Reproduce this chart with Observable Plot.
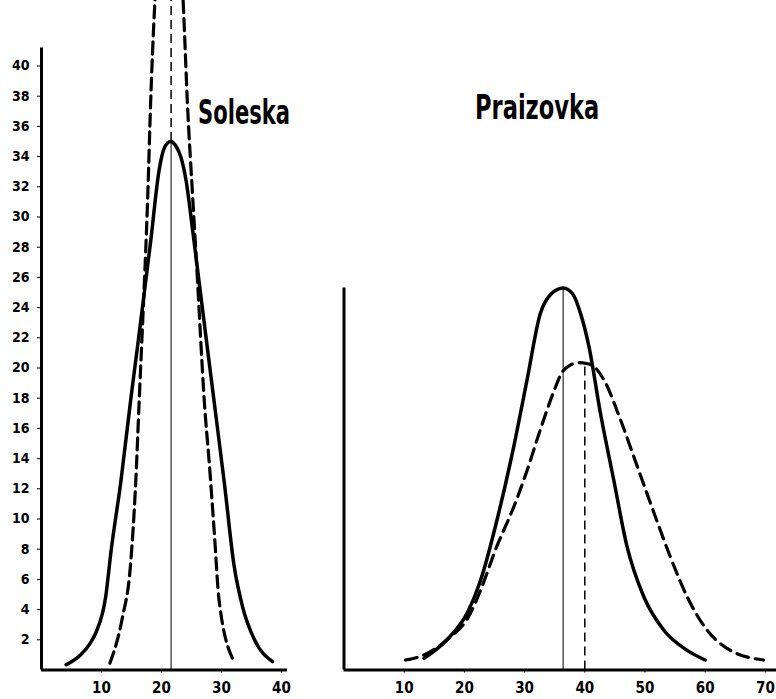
<!DOCTYPE html>
<html>
<head>
<meta charset="utf-8">
<script src="https://cdn.jsdelivr.net/npm/d3@7"></script>
<script src="https://cdn.jsdelivr.net/npm/@observablehq/plot@0.6"></script>
<style>
  body { margin: 0; background: #fff; }
  #wrap { position: relative; width: 776px; height: 699px; overflow: hidden; background: #fff;
          font-family: "DejaVu Sans Condensed", "Liberation Sans Narrow", sans-serif; }
  #left, #right { position: absolute; top: 0; }
  #left { left: 0; }
  #right { left: 300px; }
  .title { position: absolute; font-weight: bold; font-size: 33px; line-height: 1; color: #000;
           transform-origin: left top; white-space: nowrap; }
</style>
</head>
<body>
<div id="wrap">
  <div id="left"></div>
  <div id="right"></div>
  <div class="title" id="t1" style="left:198px;top:96px;transform:scaleX(0.71);">Soleska</div>
  <div class="title" id="t2" style="left:475px;top:91px;transform:scaleX(0.76);">Praizovka</div>
</div>
<script>
// ---- Data ----
const yTicks = [2,4,6,8,10,12,14,16,18,20,22,24,26,28,30,32,34,36,38,40];
const soleskaXTicks = [10,20,30,40];
const praizovkaXTicks = [10,20,30,40,50,60,70];

// Soleska — solid curve
const soleskaSolidX = [4.1, 6.5, 8.0, 9.1, 10.7, 11.6, 13.2, 14.9, 16.0, 17.1, 18.2, 19.6, 20.5, 21.5, 22.4, 23.2, 24.1, 25.2, 26.3, 27.4, 28.7, 30.5, 32.1, 33.5, 35.5, 38.5];
const soleskaSolidY = [0.35, 1.0, 1.7, 2.5, 4.85, 7.9, 12.4, 18.0, 21.4, 24.9, 28.4, 33.1, 34.6, 35.0, 34.7, 34.0, 32.4, 29.1, 25.6, 22.1, 18.0, 12.3, 6.9, 4.2, 2.0, 0.55];
// Soleska — dashed curve (runs off the top)
const soleskaDashX = [11.4, 13.5, 14.8, 15.7, 16.3, 16.8, 17.7, 18.2, 18.8, 19.4, 21.4, 23.2, 23.7, 24.3, 25.2, 26.0, 26.6, 27.1, 28.0, 28.8, 29.6, 32.1];
const soleskaDashY = [0.45, 3.5, 6.8, 12.4, 18.0, 22.5, 31.3, 37.7, 43.5, 47.5, 58, 47.5, 43.5, 37.7, 31.3, 25.8, 21.4, 18.0, 13.5, 9.1, 4.6, 0.55];
const soleskaSolidMean = 21.6, soleskaSolidPeak = 35.0;
const soleskaDashMean = 21.6;

// Praizovka — solid curve
const praizSolidX = [13.3, 17.1, 20.5, 22.7, 25.7, 28.2, 30.4, 32.6, 34.4, 36.4, 38.0, 39.3, 40.7, 42.6, 44.8, 47.0, 49.8, 53.1, 57.0, 60.0];
const praizSolidY = [0.77, 2.0, 3.8, 5.96, 10.4, 14.8, 19.2, 23.6, 24.9, 25.3, 24.9, 23.6, 21.4, 17.0, 12.6, 8.2, 4.85, 2.65, 1.3, 0.66];
// Praizovka — dashed curve
const praizDashX = [10.2, 13.3, 17.1, 21.0, 22.7, 25.4, 28.2, 30.4, 32.6, 34.9, 36.2, 37.6, 39.0, 40.3, 41.5, 43.2, 45.9, 48.7, 51.5, 54.2, 57.0, 60.3, 64.2, 69.7];
const praizDashY = [0.66, 1.0, 2.0, 3.75, 5.3, 8.2, 10.8, 13.2, 15.9, 18.5, 19.7, 20.2, 20.35, 20.3, 20.1, 19.2, 16.6, 13.5, 10.4, 7.5, 4.85, 2.65, 1.3, 0.66];
const praizSolidMean = 36.4, praizSolidPeak = 25.3;
const praizDashMean = 40.0, praizDashPeak = 20.3;

// ---- helpers ----
const pts = (xs, ys) => xs.map((x, i) => ({x, y: ys[i]}));
const H = 699, MB = 29.5, PXY = 15.1;           // px per y unit
const yMax = (H - MB) / PXY;
const FONT = "\"DejaVu Sans Condensed\", \"Liberation Sans Narrow\", sans-serif";
const style = {fontFamily: FONT, fontSize: "14px", fontWeight: "bold", color: "#000", background: "transparent", overflow: "visible"};

// ---- Left: Soleska ----
const LW = 300, LML = 41, LPX = 6.0;
const leftXMax = (LW - LML) / LPX;
const leftAxisTop = 41.2, leftAxisRight = 41.0;
const left = Plot.plot({
  width: LW, height: H,
  marginLeft: LML, marginRight: 0, marginTop: 0, marginBottom: MB,
  style,
  x: {domain: [0, leftXMax], ticks: soleskaXTicks, label: null},
  y: {domain: [0, yMax], ticks: yTicks, label: null},
  marks: [
    Plot.axisY({ticks: yTicks, tickSize: 4, tickPadding: 8, fontSize: 14, fontWeight: "bold", label: null}),
    Plot.axisX({ticks: soleskaXTicks, tickSize: 3, tickPadding: 9, fontSize: 15, fontWeight: "bold", label: null}),
    Plot.ruleX([0], {y1: 0, y2: leftAxisTop, strokeWidth: 3}),
    Plot.ruleY([0], {x1: 0, x2: leftAxisRight, strokeWidth: 3}),
    Plot.ruleX([soleskaSolidMean], {y1: 0, y2: soleskaSolidPeak, strokeWidth: 1}),
    Plot.ruleX([soleskaDashMean], {y1: soleskaSolidPeak, y2: yMax, strokeWidth: 1.5, strokeDasharray: "9,5"}),
    Plot.line(pts(soleskaSolidX, soleskaSolidY), {x: "x", y: "y", curve: "monotone-x", strokeWidth: 3.5, clip: true}),
    Plot.line(pts(soleskaDashX, soleskaDashY), {x: "x", y: "y", curve: "monotone-x", strokeWidth: 3.2, strokeDasharray: "12,6", clip: true})
  ]
});
document.getElementById("left").appendChild(left);

// ---- Right: Praizovka ----
const RW = 476, RML = 43.5, RPX = 6.02;
const rightXMax = (RW - RML) / RPX;
const right = Plot.plot({
  width: RW, height: H,
  marginLeft: RML, marginRight: 0, marginTop: 0, marginBottom: MB,
  style,
  x: {domain: [0, rightXMax], ticks: praizovkaXTicks, label: null},
  y: {domain: [0, yMax], axis: null},
  marks: [
    Plot.axisX({ticks: praizovkaXTicks, tickSize: 3, tickPadding: 9, fontSize: 15, fontWeight: "bold", label: null}),
    Plot.ruleX([0], {y1: 0, y2: praizSolidPeak, strokeWidth: 3}),
    Plot.ruleY([0], {x1: 0, x2: rightXMax, strokeWidth: 3}),
    Plot.ruleX([praizSolidMean], {y1: 0, y2: praizSolidPeak, strokeWidth: 1}),
    Plot.ruleX([praizDashMean], {y1: 0, y2: praizDashPeak, strokeWidth: 1.5, strokeDasharray: "9,5"}),
    Plot.line(pts(praizSolidX, praizSolidY), {x: "x", y: "y", curve: "monotone-x", strokeWidth: 3.5}),
    Plot.line(pts(praizDashX, praizDashY), {x: "x", y: "y", curve: "monotone-x", strokeWidth: 3.2, strokeDasharray: "12,7"})
  ]
});
document.getElementById("right").appendChild(right);
</script>
</body>
</html>
